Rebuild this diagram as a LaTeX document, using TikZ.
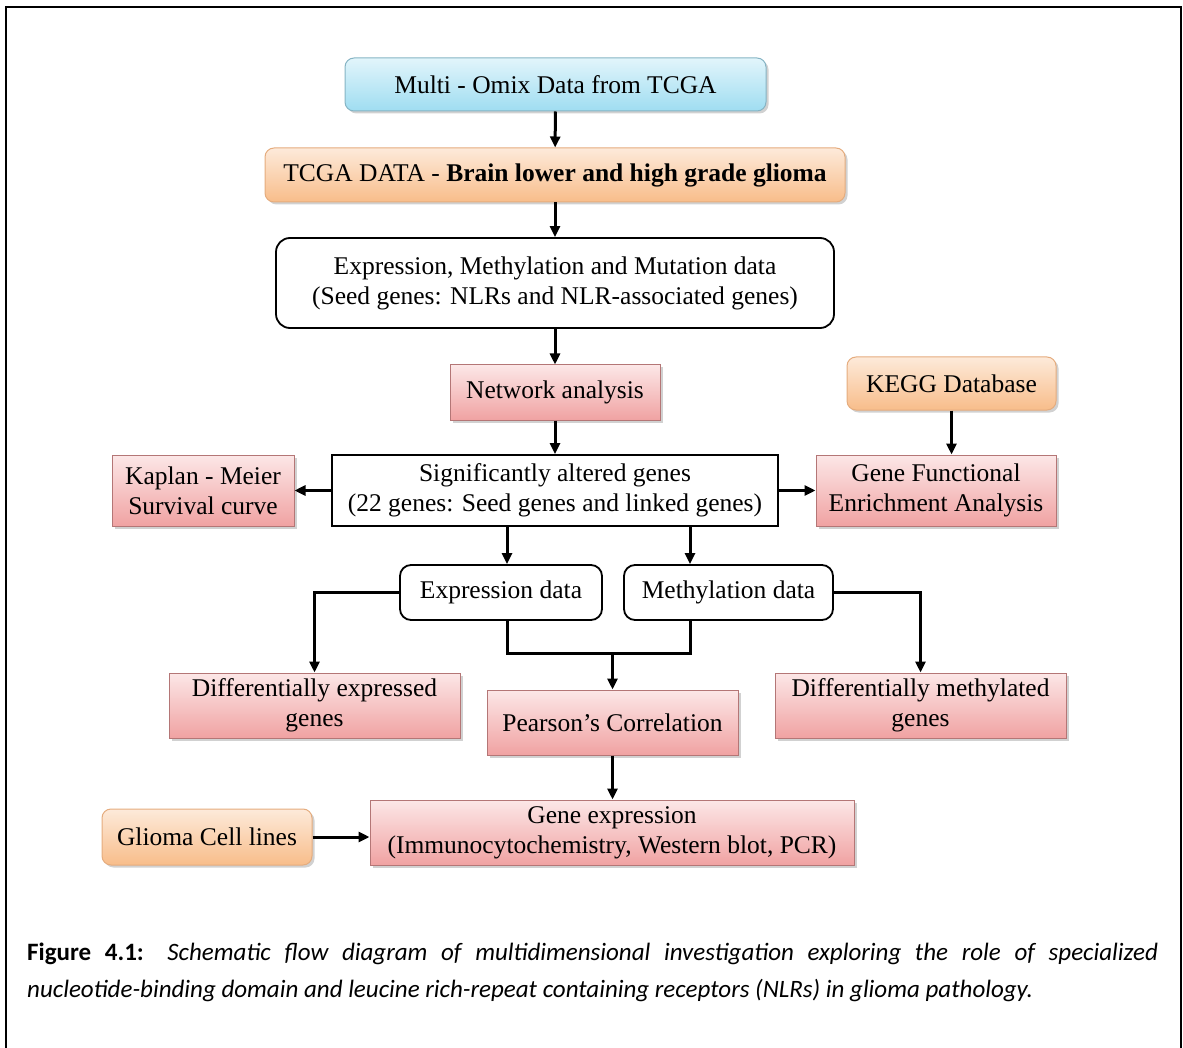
\documentclass[tikz,border=0pt]{standalone}
\usepackage{fontspec}
\setmainfont{Liberation Serif}
\newfontfamily\capfont{Carlito}
\usetikzlibrary{arrows.meta,shadows}

\definecolor{blueTop}{HTML}{E2F5FB}
\definecolor{blueBot}{HTML}{9FDDF1}
\definecolor{blueLine}{HTML}{86B4C4}
\definecolor{orTop}{HTML}{FDEADA}
\definecolor{orBot}{HTML}{F8BD8A}
\definecolor{orLine}{HTML}{E5AC7E}
\definecolor{pkTop}{HTML}{FCE7E7}
\definecolor{pkBot}{HTML}{F0A2A2}
\definecolor{pkLine}{HTML}{B47676}

\begin{document}
\begin{tikzpicture}[x=1pt,y=-1pt,
  box/.style={inner sep=0pt, align=center, font=\fontsize{25.5}{30}\selectfont},
  softshadow/.style={drop shadow={shadow xshift=2.5pt, shadow yshift=-2.5pt, opacity=0.3, fill=black!60}},
  bluebox/.style={box, draw=blueLine, line width=1pt, rounded corners=9pt,
    top color=blueTop, bottom color=blueBot, softshadow},
  orangebox/.style={box, draw=orLine, line width=1pt, rounded corners=9pt,
    top color=orTop, bottom color=orBot, softshadow},
  pinkbox/.style={box, draw=pkLine, line width=1pt,
    top color=pkTop, bottom color=pkBot, softshadow},
  whitebox/.style={box, draw=black, line width=1.8pt, fill=white},
  roundwhite/.style={whitebox, rounded corners=14pt},
  flow/.style={line width=3pt, -{Triangle[length=11pt,width=10pt]}},
  link/.style={line width=3pt},
  capline/.style={anchor=base west, inner sep=0pt, font=\capfont\fontsize{25}{37}\selectfont}
]
\useasboundingbox (0,0) rectangle (1183,1048);

% outer frame (open at the bottom)
\draw[line width=2.4pt] (6,1048) -- (6,7) -- (1181,7) -- (1181,1048);

% main column
\node[bluebox, minimum width=421pt, minimum height=53pt] (omix) at (555.5,84.5)
  {Multi - Omix Data from TCGA};
\node[orangebox, minimum width=580pt, minimum height=54pt] (tcga) at (555,175)
  {TCGA DATA - \textbf{Brain lower and high grade glioma}};
\node[roundwhite, minimum width=558pt, minimum height=90pt] (emm) at (555,283)
  {Expression, Methylation and Mutation data\\(Seed genes: NLRs and NLR-associated genes)};
\node[pinkbox, minimum width=210pt, minimum height=55pt] (net) at (555,392.5)
  {Network analysis};
\node[orangebox, minimum width=209pt, minimum height=53pt] (kegg) at (951.5,383.5)
  {KEGG Database};
\node[whitebox, minimum width=446pt, minimum height=71pt] (sig) at (555,490.5)
  {Significantly altered genes\\(22 genes: Seed genes and linked genes)};
\node[pinkbox, minimum width=182pt, minimum height=71pt] (kap) at (203,490.5)
  {Kaplan - Meier\\Survival curve};
\node[pinkbox, minimum width=240pt, minimum height=71pt] (gfe) at (936,490.5)
  {Gene Functional\\Enrichment Analysis};

% data split
\node[roundwhite, rounded corners=11pt, minimum width=202pt, minimum height=55pt] (expr) at (501,592.5)
  {Expression data};
\node[roundwhite, rounded corners=11pt, minimum width=209pt, minimum height=55pt] (meth) at (728.5,592.5)
  {Methylation data};
\node[pinkbox, minimum width=291pt, minimum height=65pt] (dexp) at (314.5,705.5)
  {Differentially expressed\\genes};
\node[pinkbox, minimum width=251pt, minimum height=65pt] (pear) at (612.5,722.5)
  {Pearson's Correlation};
\node[pinkbox, minimum width=291pt, minimum height=65pt] (dmeth) at (920.5,705.5)
  {Differentially methylated\\genes};

% validation
\node[pinkbox, minimum width=484pt, minimum height=65pt] (gexp) at (612,832.5)
  {Gene expression\\(Immunocytochemistry, Western blot, PCR)};
\node[orangebox, minimum width=210pt, minimum height=56pt] (glio) at (207,837)
  {Glioma Cell lines};

% connectors
\coordinate (ax) at (507,0);
\coordinate (bx) at (690,0);
\coordinate (mj) at (612.5,653);

\draw[flow] (omix) -- (tcga);
\draw[flow] (tcga) -- (emm);
\draw[flow] (emm) -- (net);
\draw[flow] (net) -- (sig);
\draw[flow] (kegg.south) -- (kegg.south |- gfe.north);
\draw[flow] (sig.west) -- (kap.east);
\draw[flow] (sig.east) -- (gfe.west);
\draw[flow] (sig.south -| ax) -- (expr.north -| ax);
\draw[flow] (sig.south -| bx) -- (meth.north -| bx);
\draw[flow] (expr.west) -| (dexp.north);
\draw[flow] (meth.east) -| (dmeth.north);
\draw[link] (expr.south -| ax) |- (mj);
\draw[link] (meth.south -| bx) |- (mj);
\draw[flow] (mj) -- (pear.north);
\draw[flow] (pear.south) -- (pear.south |- gexp.north);
\draw[flow] (glio.east) -- (glio.east -| gexp.west);

% caption
\node[capline] (cap1) at (27,960)
  {\makebox[1131pt][s]{\textbf{Figure 4.1:} \textit{Schematic flow diagram of multidimensional investigation exploring the role of specialized}}};
\node[capline] (cap2) at (27,997)
  {\textit{nucleotide-binding domain and leucine rich-repeat containing receptors (NLRs) in glioma pathology.}};
\end{tikzpicture}
\end{document}
